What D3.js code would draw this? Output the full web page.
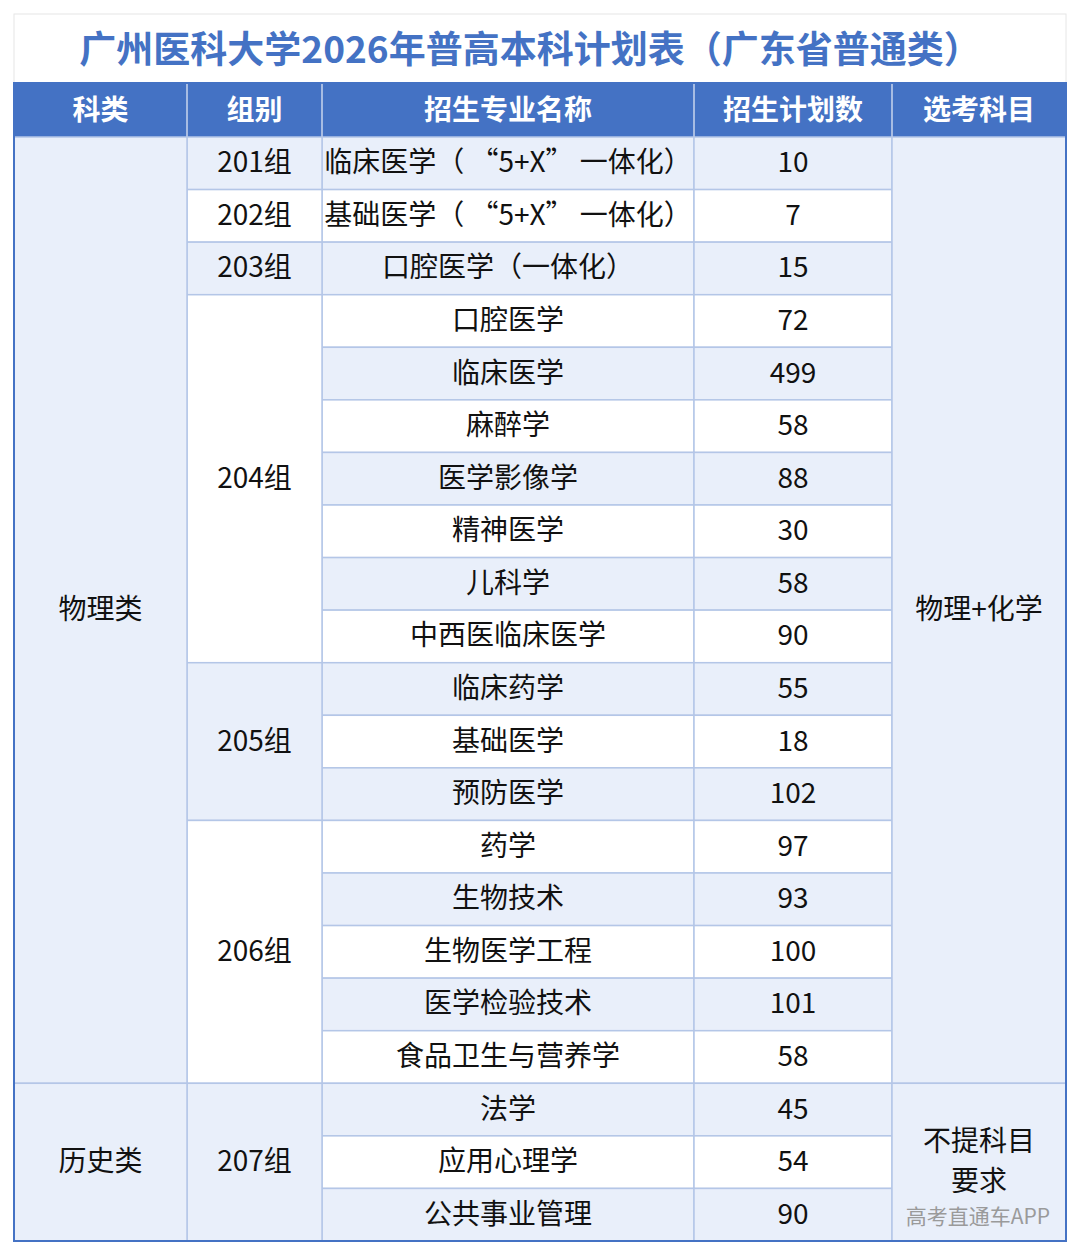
<!DOCTYPE html>
<html><head><meta charset="utf-8">
<script src="https://cdn.jsdelivr.net/npm/d3@7"></script>
<style>body{margin:0;background:#fff}text{font-family:"Noto Sans CJK SC",sans-serif}</style>
</head><body><svg id="c" width="1080" height="1255"></svg>
<script>
var title = "广州医科大学2026年普高本科计划表（广东省普通类）";
var headers = ["科类", "组别", "招生专业名称", "招生计划数", "选考科目"];
var majors = ["临床医学（ “5+X” 一体化）", "基础医学（ “5+X” 一体化）", "口腔医学（一体化）",
  "口腔医学", "临床医学", "麻醉学", "医学影像学", "精神医学", "儿科学", "中西医临床医学",
  "临床药学", "基础医学", "预防医学",
  "药学", "生物技术", "生物医学工程", "医学检验技术", "食品卫生与营养学",
  "法学", "应用心理学", "公共事业管理"];
var plans = [10, 7, 15, 72, 499, 58, 88, 30, 58, 90, 55, 18, 102, 97, 93, 100, 101, 58, 45, 54, 90];
// merged cells: [label, first row, row count]
var groups = [["201组", 0, 1], ["202组", 1, 1], ["203组", 2, 1], ["204组", 3, 7],
  ["205组", 10, 3], ["206组", 13, 5], ["207组", 18, 3]];
var kinds = [["物理类", 0, 18], ["历史类", 18, 3]];
var subjects = [["物理+化学", 0, 18], ["不提科目|要求", 18, 3]];

var cols = [14, 187, 322, 694, 892, 1066];
var light = "#e9effa", blue = "#4472c4", line = "#b4c6e7";
var svg = d3.select("#c");
var y = d3.scaleLinear().domain([0, majors.length]).range([137, 1241]);
var fs = 28;

svg.append("rect").attr("x", cols[0]).attr("y", 14).attr("width", cols[5] - cols[0]).attr("height", 69)
  .attr("fill", "#fff").attr("stroke", "#e6e6e6");
svg.append("text").attr("x", 530).attr("y", 47).attr("text-anchor", "middle").attr("dominant-baseline", "central")
  .attr("fill", blue).attr("font-size", 37).attr("font-weight", "bold").text(title);

// header
svg.append("rect").attr("x", cols[0]).attr("y", 83).attr("width", cols[5] - cols[0]).attr("height", 54).attr("fill", blue);
svg.selectAll(".h").data(headers).enter().append("text")
  .attr("x", function(d, i) { return (cols[i] + cols[i + 1]) / 2; }).attr("y", 108)
  .attr("text-anchor", "middle").attr("dominant-baseline", "central")
  .attr("fill", "#fff").attr("font-size", fs).attr("font-weight", "bold").text(function(d) { return d; });
svg.selectAll(".hl").data(cols.slice(1, 5)).enter().append("line")
  .attr("x1", function(d) { return d; }).attr("x2", function(d) { return d; })
  .attr("y1", 83).attr("y2", 137).attr("stroke", "#c9d6ee").attr("stroke-width", 1.5);

function cell(x0, x1, r0, n, fill, label) {
  svg.append("rect").attr("x", x0).attr("y", y(r0)).attr("width", x1 - x0).attr("height", y(r0 + n) - y(r0))
    .attr("fill", fill).attr("stroke", line).attr("stroke-width", 1.5);
  var parts = label.split("|");
  var cy = (y(r0) + y(r0 + n)) / 2 - 3;
  parts.forEach(function(p, k) {
    svg.append("text").attr("x", (x0 + x1) / 2).attr("y", cy + (k - (parts.length - 1) / 2) * 40)
      .attr("text-anchor", "middle").attr("dominant-baseline", "central")
      .attr("fill", "#111").attr("font-size", fs).text(p);
  });
}

majors.forEach(function(m, i) {
  var f = i % 2 === 0 ? light : "#fff";
  cell(cols[2], cols[3], i, 1, f, m);
  cell(cols[3], cols[4], i, 1, f, String(plans[i]));
});
groups.forEach(function(g, i) { cell(cols[1], cols[2], g[1], g[2], i % 2 === 0 ? light : "#fff", g[0]); });
kinds.forEach(function(g) { cell(cols[0], cols[1], g[1], g[2], light, g[0]); });
subjects.forEach(function(g) { cell(cols[4], cols[5], g[1], g[2], light, g[0]); });

svg.append("rect").attr("x", cols[0]).attr("y", 83).attr("width", cols[5] - cols[0]).attr("height", y(majors.length) - 83)
  .attr("fill", "none").attr("stroke", blue).attr("stroke-width", 2);
svg.append("text").attr("x", 978).attr("y", 1215).attr("text-anchor", "middle").attr("dominant-baseline", "central")
  .attr("fill", "#9a9a9a").attr("font-size", 21).text("高考直通车APP");
</script></body></html>
